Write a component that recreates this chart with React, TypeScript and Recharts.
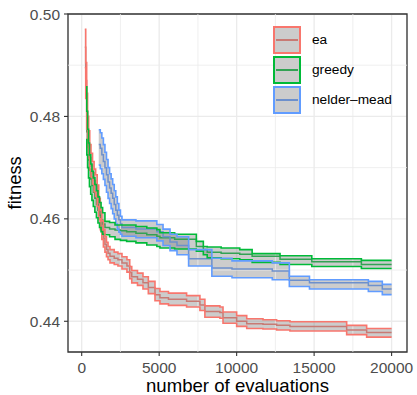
import React from 'react';
import {
  ComposedChart, Area, Line, XAxis, YAxis, CartesianGrid, ReferenceLine, ReferenceArea, Label,
} from 'recharts';

// ---- data ----
const seriesNames = ['ea', 'greedy', 'nelder\u2013mead'];

const eaX = [200, 260, 320, 380, 450, 520, 600, 700, 800, 900, 1000, 1100, 1200, 1300, 1400, 1500, 1600, 1700, 1826, 2100, 2340, 2600, 2920, 3100, 3230, 3600, 3955, 4300, 4730, 5050, 5600, 6770, 7630, 7950, 8920, 9120, 10000, 10650, 11700, 12580, 13440, 17100, 18390, 20000];
const eaMean = [0.4935, 0.4870, 0.4810, 0.4770, 0.4745, 0.4720, 0.4705, 0.4690, 0.4675, 0.4665, 0.4645, 0.4620, 0.4598, 0.4578, 0.4562, 0.4550, 0.4540, 0.4533, 0.4527, 0.4523, 0.4520, 0.4514, 0.4508, 0.4495, 0.4487, 0.4482, 0.4475, 0.4466, 0.4452, 0.4446, 0.4443, 0.4439, 0.4432, 0.4419, 0.4417, 0.4407, 0.4400, 0.4395, 0.4394, 0.4392, 0.4390, 0.4383, 0.4378, 0.4378];
const eaHi = [0.4970, 0.4905, 0.4845, 0.4800, 0.4772, 0.4745, 0.4728, 0.4712, 0.4697, 0.4686, 0.4666, 0.4640, 0.4617, 0.4596, 0.4579, 0.4565, 0.4554, 0.4546, 0.4540, 0.4535, 0.4532, 0.4526, 0.4520, 0.4507, 0.4499, 0.4494, 0.4487, 0.4478, 0.4464, 0.4458, 0.4455, 0.4450, 0.4443, 0.4430, 0.4428, 0.4418, 0.4411, 0.4405, 0.4403, 0.4401, 0.4399, 0.4392, 0.4386, 0.4386];
const eaLo = [0.4895, 0.4835, 0.4775, 0.4740, 0.4718, 0.4695, 0.4682, 0.4668, 0.4653, 0.4644, 0.4624, 0.4600, 0.4579, 0.4560, 0.4545, 0.4535, 0.4526, 0.4520, 0.4514, 0.4511, 0.4508, 0.4502, 0.4496, 0.4483, 0.4475, 0.4470, 0.4463, 0.4454, 0.4440, 0.4434, 0.4431, 0.4428, 0.4421, 0.4408, 0.4406, 0.4396, 0.4390, 0.4386, 0.4385, 0.4383, 0.4381, 0.4374, 0.4369, 0.4369];

const grX = [280, 330, 380, 440, 500, 580, 660, 750, 850, 950, 1050, 1150, 1250, 1350, 1500, 1800, 2150, 2500, 2900, 3500, 4200, 4850, 5050, 6000, 7400, 7850, 8100, 9000, 10200, 11000, 12800, 14850, 18050, 20000];
const grMean = [0.4810, 0.4770, 0.4740, 0.4715, 0.4695, 0.4678, 0.4665, 0.4652, 0.4640, 0.4628, 0.4617, 0.4607, 0.4598, 0.4590, 0.4583, 0.4580, 0.4578, 0.4577, 0.4575, 0.4572, 0.4569, 0.4566, 0.4563, 0.4560, 0.4546, 0.4540, 0.4535, 0.4533, 0.4531, 0.4527, 0.4521, 0.4516, 0.4511, 0.4511];
const grHi = [0.4858, 0.4810, 0.4775, 0.4748, 0.4725, 0.4707, 0.4693, 0.4680, 0.4667, 0.4655, 0.4643, 0.4632, 0.4622, 0.4612, 0.4595, 0.4593, 0.4588, 0.4588, 0.4588, 0.4585, 0.4582, 0.4579, 0.4573, 0.4570, 0.4556, 0.4546, 0.4545, 0.4543, 0.4540, 0.4532, 0.4528, 0.4522, 0.4519, 0.4519];
const grLo = [0.4755, 0.4725, 0.4700, 0.4680, 0.4663, 0.4648, 0.4636, 0.4624, 0.4613, 0.4602, 0.4592, 0.4583, 0.4575, 0.4570, 0.4569, 0.4565, 0.4560, 0.4558, 0.4556, 0.4553, 0.4549, 0.4546, 0.4543, 0.4541, 0.4537, 0.4530, 0.4524, 0.4522, 0.4520, 0.4515, 0.4511, 0.4507, 0.4503, 0.4503];

const nmX = [1100, 1200, 1300, 1400, 1500, 1600, 1700, 1800, 1900, 2000, 2100, 2200, 2300, 2400, 2500, 2600, 3500, 4850, 5250, 5700, 6150, 6900, 8400, 9700, 12300, 13400, 14700, 18500, 19400, 20000];
const nmMean = [0.4745, 0.4738, 0.4725, 0.4712, 0.4700, 0.4686, 0.4672, 0.4660, 0.4650, 0.4640, 0.4628, 0.4617, 0.4607, 0.4598, 0.4590, 0.4583, 0.4580, 0.4575, 0.4565, 0.4555, 0.4548, 0.4522, 0.4504, 0.4502, 0.4498, 0.4480, 0.4475, 0.4470, 0.4463, 0.4463];
const nmHi = [0.4774, 0.4768, 0.4758, 0.4745, 0.4730, 0.4716, 0.4700, 0.4688, 0.4678, 0.4667, 0.4655, 0.4643, 0.4630, 0.4617, 0.4605, 0.4598, 0.4596, 0.4589, 0.4580, 0.4570, 0.4565, 0.4540, 0.4523, 0.4518, 0.4514, 0.4488, 0.4481, 0.4478, 0.4472, 0.4472];
const nmLo = [0.4705, 0.4698, 0.4688, 0.4677, 0.4665, 0.4652, 0.4640, 0.4630, 0.4620, 0.4610, 0.4600, 0.4590, 0.4580, 0.4574, 0.4570, 0.4566, 0.4563, 0.4557, 0.4548, 0.4538, 0.4530, 0.4508, 0.4488, 0.4485, 0.4481, 0.4468, 0.4463, 0.4458, 0.4452, 0.4452];

const xTicks = [0, 5000, 10000, 15000, 20000];
const yTicks = [0.44, 0.46, 0.48, 0.5];
const xMinor = [2500, 7500, 12500, 17500];
const yMinor = [0.45, 0.47, 0.49];

const build = (xs: number[], mean: number[], lo: number[], hi: number[]) =>
  xs.map((x, i) => ({ x, mean: mean[i], lo: lo[i], hi: hi[i], range: [lo[i], hi[i]] }));

const series = [
  { name: seriesNames[0], data: build(eaX, eaMean, eaLo, eaHi), color: '#F8766D', meanColor: '#C87A74' },
  { name: seriesNames[1], data: build(grX, grMean, grLo, grHi), color: '#00BA38', meanColor: '#33A254' },
  { name: seriesNames[2], data: build(nmX, nmMean, nmLo, nmHi), color: '#619CFF', meanColor: '#6D90CC' },
];

const FONT = '"Liberation Sans", Arial, Helvetica, sans-serif';
const X_DOMAIN: [number, number] = [-884, 20994];
const Y_DOMAIN: [number, number] = [0.434, 0.5];

export default function App() {
  return (
    <div style={{ position: 'absolute', left: 0, top: 0, width: 417, height: 395, background: '#fff', fontFamily: FONT }}>
      <ComposedChart width={417} height={395} margin={{ top: 14, right: 10, bottom: 0, left: 0 }}>
        <CartesianGrid stroke="#EBEBEB" strokeWidth={1.3} horizontal vertical />
        {xMinor.map((v) => (
          <ReferenceLine key={'xm' + v} x={v} stroke="#EBEBEB" strokeWidth={0.8} />
        ))}
        {yMinor.map((v) => (
          <ReferenceLine key={'ym' + v} y={v} stroke="#EBEBEB" strokeWidth={0.8} />
        ))}
        <XAxis
          type="number"
          dataKey="x"
          domain={X_DOMAIN}
          ticks={xTicks}
          allowDataOverflow
          height={43}
          axisLine={false}
          tickLine={{ stroke: '#333333', strokeWidth: 1.1 }}
          tickSize={4}
          tickMargin={6}
          tick={{ fill: '#4D4D4D', fontSize: 15.5, fontFamily: FONT }}
        >
          <Label
            content={() => (
              <text x={237.5} y={392} textAnchor="middle" fontSize={18.6} fontFamily={FONT} fill="#000">
                number of evaluations
              </text>
            )}
          />
        </XAxis>
        <YAxis
          type="number"
          domain={Y_DOMAIN}
          ticks={yTicks}
          allowDataOverflow
          width={68}
          axisLine={false}
          tickLine={{ stroke: '#333333', strokeWidth: 1.1 }}
          tickSize={4}
          tickMargin={4}
          tickFormatter={(v: number) => v.toFixed(2)}
          tick={{ fill: '#4D4D4D', fontSize: 15.5, fontFamily: FONT }}
        >
          <Label
            content={() => (
              <text
                x={21.5}
                y={182.8}
                textAnchor="middle"
                fontSize={18.4}
                fontFamily={FONT}
                fill="#000"
                transform="rotate(-90 21.5 182.8)"
              >
                fitness
              </text>
            )}
          />
        </YAxis>
        {series.map((s) => (
          <Line
            key={s.name + '-mean'}
            data={s.data}
            dataKey="mean"
            type="stepAfter"
            stroke={s.meanColor}
            strokeWidth={1.5}
            dot={false}
            activeDot={false}
            isAnimationActive={false}
          />
        ))}
        {series.map((s) => (
          <Area
            key={s.name + '-ribbon'}
            data={s.data}
            dataKey="range"
            type="stepAfter"
            stroke="none"
            fill="#7F7F7F"
            fillOpacity={0.4}
            dot={false}
            activeDot={false}
            isAnimationActive={false}
          />
        ))}
        {series.map((s) => (
          <Line
            key={s.name + '-lo'}
            data={s.data}
            dataKey="lo"
            type="stepAfter"
            stroke={s.color}
            strokeWidth={1.6}
            dot={false}
            activeDot={false}
            isAnimationActive={false}
          />
        ))}
        {series.map((s) => (
          <Line
            key={s.name + '-hi'}
            data={s.data}
            dataKey="hi"
            type="stepAfter"
            stroke={s.color}
            strokeWidth={1.6}
            dot={false}
            activeDot={false}
            isAnimationActive={false}
          />
        ))}
        <ReferenceArea
          x1={X_DOMAIN[0]}
          x2={X_DOMAIN[1]}
          y1={Y_DOMAIN[0]}
          y2={Y_DOMAIN[1]}
          fill="none"
          stroke="#333333"
          strokeWidth={1.3}
          ifOverflow="visible"
        />
      </ComposedChart>
      <div style={{ position: 'absolute', left: 273, top: 25, fontFamily: FONT }}>
        {series.map((s) => (
          <div key={s.name} style={{ display: 'flex', alignItems: 'center', height: 30 }}>
            <div
              style={{
                position: 'relative',
                width: 28,
                height: 28,
                boxSizing: 'border-box',
                border: `2px solid ${s.color}`,
                background: '#CCCCCC',
              }}
            >
              <div
                style={{
                  position: 'absolute',
                  left: 1,
                  right: 1,
                  top: 11.25,
                  height: 1.5,
                  background: s.meanColor,
                }}
              />
            </div>
            <span style={{ marginLeft: 11, fontSize: 13.7, color: '#000', lineHeight: '28px' }}>{s.name}</span>
          </div>
        ))}
      </div>
    </div>
  );
}
